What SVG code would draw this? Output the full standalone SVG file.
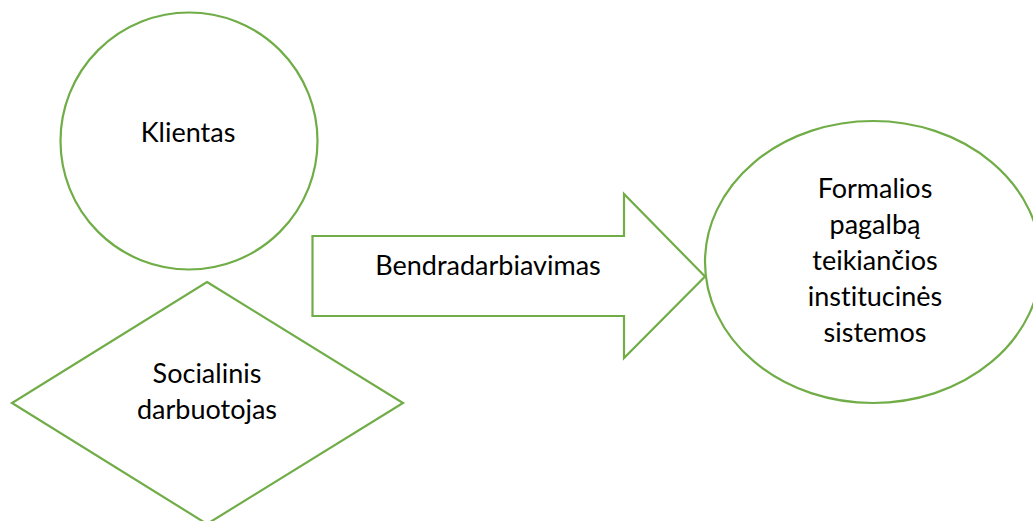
<svg xmlns="http://www.w3.org/2000/svg" width="1033" height="521" viewBox="0 0 1033 521">
<style>
.shape{fill:#ffffff;stroke:#70AD47;stroke-width:2.2}
.lbl{font-family:Lato,"Liberation Sans",sans-serif;font-size:27px;fill:#000000;text-anchor:middle;font-variant-ligatures:none;font-feature-settings:"liga" 0,"clig" 0}
</style>
<rect width="1033" height="521" fill="#ffffff"/>
<g id="node-klientas">
<circle class="shape" cx="189" cy="141" r="128.5"/>
<text class="lbl" x="188" y="142">Klientas</text>
</g>
<g id="node-socialinis">
<polygon class="shape" points="207,282 403,403 207,524 12,403"/>
<text class="lbl" x="207" y="383">Socialinis</text>
<text class="lbl" x="207" y="419">darbuotojas</text>
</g>
<g id="connectors">
<g id="arrow-bendradarbiavimas">
<path class="shape" d="M312.5,236 H624 V194 L705,276.5 L624,358 V316 H312.5 Z"/>
<text class="lbl" x="488" y="275">Bendradarbiavimas</text>
</g>
</g>
<g id="node-formalios">
<ellipse class="shape" cx="873" cy="262" rx="168" ry="141"/>
<text class="lbl" x="875" y="198">Formalios</text>
<text class="lbl" x="875" y="234">pagalbą</text>
<text class="lbl" x="875" y="270">teikiančios</text>
<text class="lbl" x="875" y="306">institucinės</text>
<text class="lbl" x="875" y="342">sistemos</text>
</g>
</svg>
